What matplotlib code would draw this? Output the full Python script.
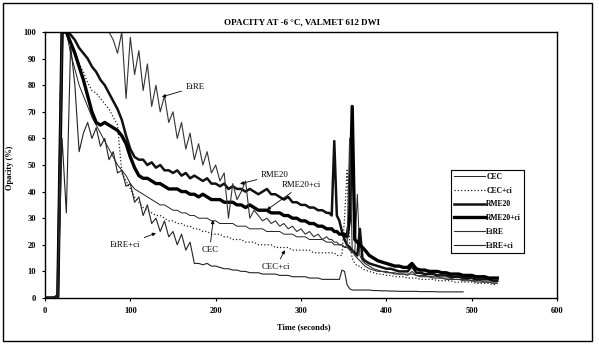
import numpy as np
import matplotlib.pyplot as plt
from matplotlib.patches import Rectangle

plt.rcParams['font.family'] = ['Liberation Serif', 'DejaVu Serif']
plt.rcParams['font.weight'] = 'bold'

# time grid (s): 5 s steps, 3 s steps around the spikes
t = np.array(list(range(0, 331, 5)) + list(range(333, 373, 3)) + list(range(375, 531, 5)), dtype=float)

cec = [0, 0, 0, 1, 100, 100, 92, 86, 80, 76,
       72, 68, 65, 62, 59, 56, 53, 50, 48, 46,
       43, 41, 40, 39, 38, 37, 36, 35, 35, 34,
       33, 33, 32, 32, 31, 31, 30, 30, 30, 29,
       29, 28, 28, 28, 28, 27, 27, 27, 26, 26,
       26, 26, 25, 25, 25, 25, 24, 24, 24, 23,
       23, 23, 22, 22, 22, 22, 21,
       21, 21, 20, 20, 20, 20, 19, 19, 18, 17, 17, 39, 16, 14,
       13, 12, 11, 10.5, 10, 10, 9.5, 9.5, 9, 9, 9, 9, 8.5, 8.5, 8.5, 8,
       8, 8, 7.5, 7.5, 7.5, 7, 7, 7, 7, 6.5, 6.5, 6.5, 6, 6, 6, 6]

cec_ci = [0, 0, 0, 1, 100, 100, 97, 93, 88, 85,
          81, 78, 77, 75, 73, 71, 68, 65, 47, 44,
          41, 38, 36, 34, 33, 32, 31, 31, 30, 29,
          29, 28, 28, 27, 27, 26, 26, 25, 25, 24,
          24, 24, 23, 23, 22, 22, 22, 21, 21, 21,
          20, 20, 20, 20, 19, 19, 19, 19, 18, 18,
          18, 18, 18, 17, 17, 17, 17,
          17, 17, 17, 16, 16, 16, 30, 48, 20, 15, 13, 12, 12, 11,
          10.5, 10, 9.5, 9, 9, 8.5, 8.5, 8, 8, 8, 7.5, 7.5, 7.5, 7, 7, 7,
          7, 6.5, 6.5, 6.5, 6.5, 6, 6, 6, 6, 6, 5.5, 5.5, 5.5, 5.5, 5, 5]

rme20 = [0, 0, 0, 1, 100, 100, 99, 97, 94, 92,
         90, 87, 85, 82, 80, 77, 74, 71, 67, 61,
         56, 53, 52, 52, 50, 51, 49, 50, 48, 48,
         47, 48, 46, 47, 45, 46, 45, 44, 45, 43,
         43, 42, 43, 41, 42, 41, 41, 40, 41, 40,
         39, 40, 41, 39, 39, 38, 37, 38, 36, 36,
         35, 35, 34, 34, 33, 33, 32,
         32, 31, 59, 31, 29, 25, 22, 20, 19, 18, 17, 16, 26, 15,
         14, 13, 12.5, 12, 11.5, 11, 11, 10.5, 10, 10, 10, 12, 9.5, 9.5, 9, 9,
         9, 8.5, 8.5, 8.5, 8, 8, 8, 7.5, 7.5, 7.5, 7, 7, 7, 7, 6.5, 6.5]

rme20_ci = [0, 0, 0, 0.5, 100, 100, 96, 92, 87, 82,
            76, 70, 66, 65, 66, 65, 64, 63, 61, 58,
            53, 49, 46, 45, 45, 44, 43, 43, 42, 41,
            41, 41, 40, 40, 39, 39, 38, 39, 38, 37,
            37, 37, 36, 36, 36, 35, 35, 34, 35, 34,
            33, 33, 33, 32, 32, 32, 31, 31, 30, 30,
            29, 29, 28, 28, 27, 27, 26,
            26, 26, 25, 25, 24, 24, 24, 23, 30, 72, 22, 21, 20, 19,
            18, 16, 15, 14, 13.5, 13, 12.5, 12, 12, 11.5, 11.5, 13, 11, 10.5, 10.5, 10,
            10, 10, 9.5, 9.5, 9, 9, 9, 8.5, 8.5, 8.5, 8, 8, 8, 7.5, 7.5, 7.5]

etre = [0, 0, 0, 1, 100, 100, 100, 100, 100, 100,
        100, 100, 100, 100, 100, 100, 97, 92, 100, 75,
        98, 84, 93, 78, 88, 72, 80, 70, 76, 66,
        70, 60, 66, 56, 62, 52, 58, 50, 55, 47,
        50, 44, 47, 30, 43, 37, 40, 44, 30, 33,
        31, 29, 30, 28, 29, 27, 28, 26, 27, 25,
        26, 24, 25, 23, 24, 22, 23,
        22, 22, 21, 21, 20, 20, 19, 20, 60, 18, 16, 15, 14, 13,
        12, 11, 10.5, 10, 10, 9.5, 9.5, 9, 9, 9, 8.5, 10, 8.5, 8, 8, 8,
        7.5, 7.5, 7.5, 7, 7, 7, 7, 6.5, 6.5, 6.5, 6, 6, 6, 6, 5.5, 5.5]

etre_ci = [0, 0, 0, 0, 60, 32, 95, 80, 55, 62,
           66, 60, 64, 57, 60, 52, 55, 47, 48, 42,
           43, 36, 38, 31, 35, 28, 30, 25, 29, 23,
           25, 20, 24, 18, 21, 13, 13, 12.5, 13, 12,
           12, 11.5, 11, 11, 10.5, 10.5, 10, 10, 9.5, 9.5,
           9.5, 9, 9, 9, 9, 8.5, 8.5, 8.5, 8, 8,
           8, 8, 7.5, 7.5, 7.5, 7, 7,
           7, 7, 7, 7, 7, 10.5, 10, 5, 3.5, 3, 3, 3, 3, 3,
           3, 3, 2.8, 2.8, 2.7, 2.7, 2.6, 2.6, 2.5, 2.5, 2.5, 2.5, 2.5, 2.4, 2.4, 2.4,
           2.4, 2.3, 2.3, 2.3, 2.3, 2.3, 2.3, 2.3] + [np.nan] * 8

fig = plt.figure(figsize=(5.99, 3.48), dpi=100)
ax = fig.add_axes([45 / 599, 1 - 298 / 348, 512 / 599, 266 / 348])

ax.plot(t, cec, color='#222222', lw=0.7, label='CEC')
ax.plot(t, cec_ci, color='#222222', lw=0.9, ls=':', label='CEC+ci')
ax.plot(t, rme20, color='#111111', lw=1.8, label='RME20')
ax.plot(t, rme20_ci, color='#000000', lw=2.4, label='RME20+ci')
ax.plot(t, etre, color='#333333', lw=0.8, label='EtRE')
ax.plot(t, etre_ci, color='#222222', lw=0.8, label='EtRE+ci')

ax.set_xlim(0, 600)
ax.set_ylim(0, 100)
ax.set_xticks(range(0, 601, 100))
ax.set_yticks(range(0, 101, 10))
ax.tick_params(labelsize=6, length=2.5, width=0.8, pad=4)
for s in ax.spines.values():
    s.set_linewidth(1.0)
ax.set_xlabel('Time (seconds)', fontsize=6, fontweight='bold')
ax.xaxis.set_label_coords(0.505, -0.095)
ax.set_ylabel('Opacity (%)', fontsize=6, fontweight='bold')
ax.yaxis.set_label_coords(-0.06, 0.49)
fig.text(302 / 599, 1 - 22 / 348, 'OPACITY AT -6 \u00b0C, VALMET 612 DWI',
         ha='center', va='center', fontsize=6.5, fontweight='bold')

arrow = dict(arrowstyle='-|>', lw=0.6, color='black', mutation_scale=5, shrinkA=1, shrinkB=0)
notes = [('EtRE', (176, 79.3), (137, 75.6)),
         ('RME20', (269.5, 46.2), (228.5, 42.9)),
         ('RME20+ci', (301, 42.5), (260, 33.1)),
         ('CEC', (193, 18), (197, 29.3)),
         ('CEC+ci', (271, 11.7), (281, 18)),
         ('EtRE+ci', (94, 20), (130, 24.4))]
for txt, xy_text, xy in notes:
    ax.annotate(txt, xy=xy, xytext=xy_text, fontsize=6.3, fontweight='normal',
                ha='center', va='center', arrowprops=arrow)

leg = ax.legend(loc='upper left', bbox_to_anchor=(0.793, 0.483), fontsize=5.5,
                fancybox=False, edgecolor='black', framealpha=1,
                handlelength=4.0, labelspacing=0.75, borderpad=0.45,
                handletextpad=0.15, borderaxespad=0)
leg.get_frame().set_linewidth(0.8)

fig.patches.append(Rectangle((3 / 599, 1 - 341 / 348), 589 / 599, 338 / 348,
                             transform=fig.transFigure, fill=False, lw=1.0, ec='black'))

fig.savefig('out.png', dpi=100)
